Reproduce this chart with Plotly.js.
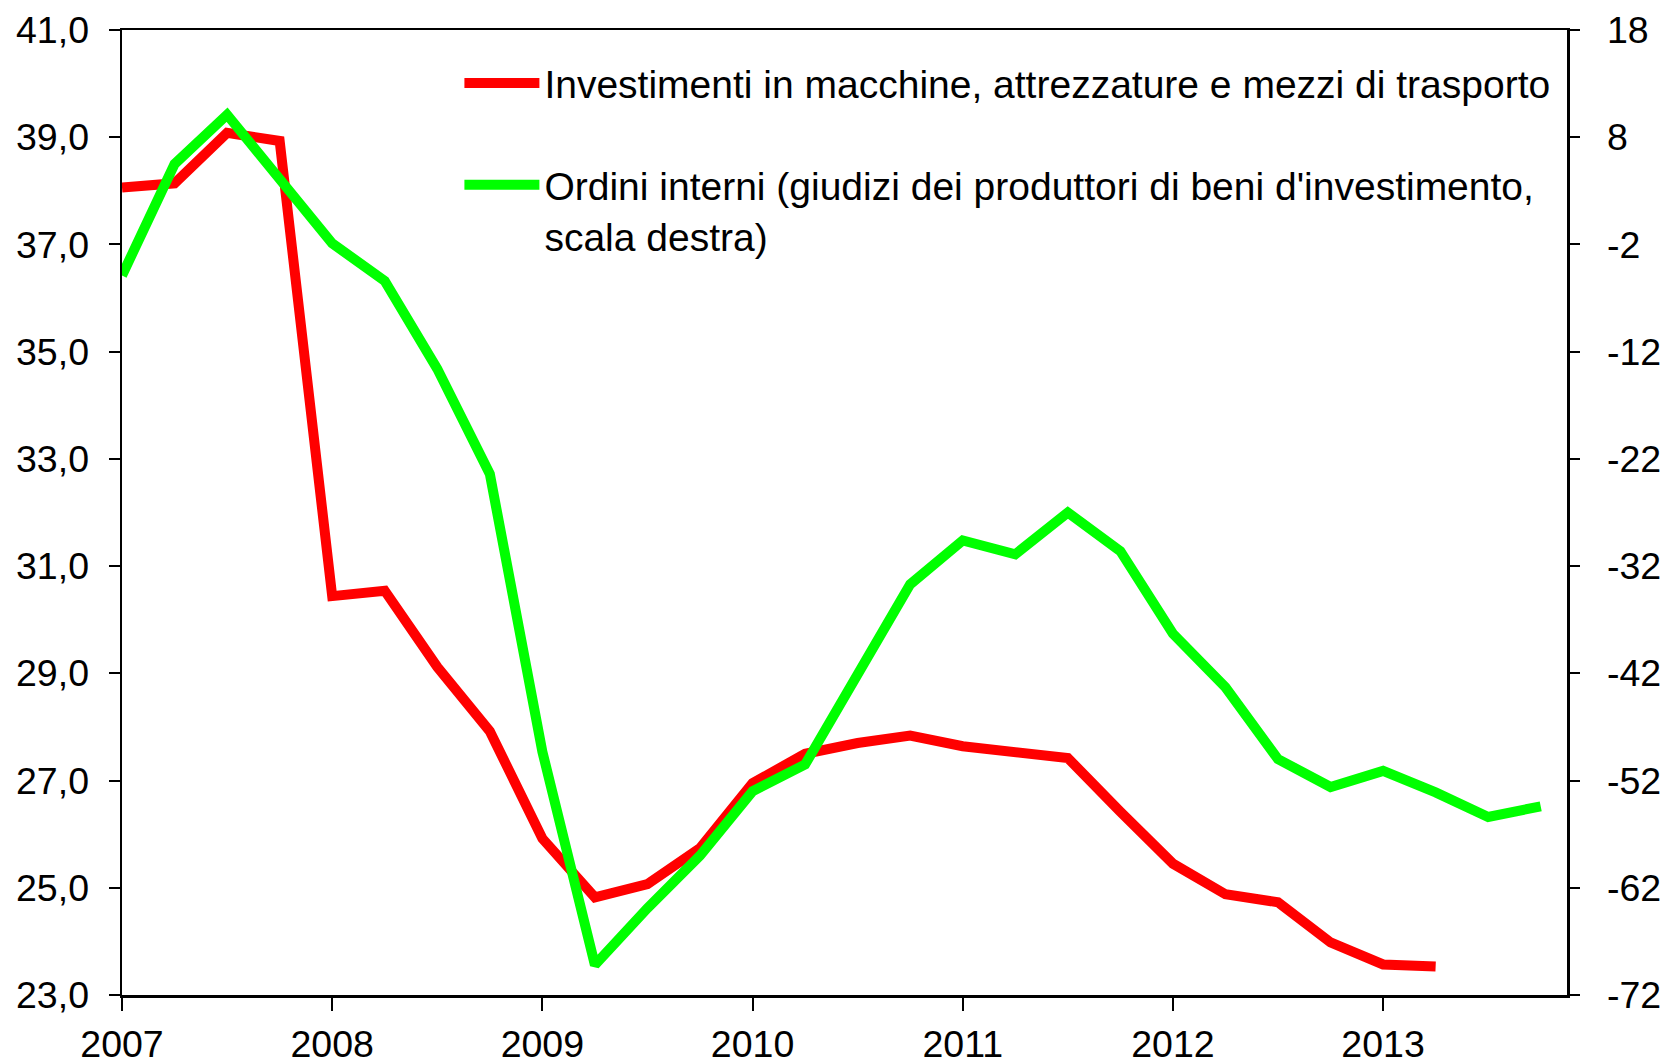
<!DOCTYPE html>
<html>
<head>
<meta charset="utf-8">
<script src="https://cdn.plot.ly/plotly-3.0.1.min.js"></script>
<style>
  html, body { margin: 0; padding: 0; background: #ffffff; }
  #chart { width: 1661px; height: 1061px; }
</style>
</head>
<body>
<div id="chart"></div>
<script>
// Quarters (categories)
const quarters = [
  '2007-T1','2007-T2','2007-T3','2007-T4',
  '2008-T1','2008-T2','2008-T3','2008-T4',
  '2009-T1','2009-T2','2009-T3','2009-T4',
  '2010-T1','2010-T2','2010-T3','2010-T4',
  '2011-T1','2011-T2','2011-T3','2011-T4',
  '2012-T1','2012-T2','2012-T3','2012-T4',
  '2013-T1','2013-T2','2013-T3','2013-T4'
];
// Year tick positions and labels
const yearTickQuarters = ['2007-T1','2008-T1','2009-T1','2010-T1','2011-T1','2012-T1','2013-T1'];
const yearLabels = ['2007','2008','2009','2010','2011','2012','2013'];

// Investimenti in macchine, attrezzature e mezzi di trasporto (left scale)
const investimenti = [
  38.06, 38.14, 39.08, 38.93,
  30.44, 30.54, 29.12, 27.92,
  25.92, 24.82, 25.07, 25.74,
  26.95, 27.50, 27.70, 27.84,
  27.64, 27.54, 27.42, 26.42,
  25.45, 24.88, 24.73, 23.98,
  23.57, 23.53
];
// Ordini interni (right scale)
const ordini = [
  -4.9, 5.5, 10.1, 4.1,
  -1.9, -5.4, -13.6, -23.4,
  -49.3, -69.2, -63.9, -59.0,
  -53.0, -50.5, -42.0, -33.7,
  -29.6, -30.9, -27.0, -30.6,
  -38.3, -43.3, -50.0, -52.6,
  -51.1, -53.1, -55.4, -54.4
];

// Axis ticks
const leftTicks = [23, 25, 27, 29, 31, 33, 35, 37, 39, 41];
const leftTickLabels = ['23,0','25,0','27,0','29,0','31,0','33,0','35,0','37,0','39,0','41,0'];
const rightTicks = [-72, -62, -52, -42, -32, -22, -12, -2, 8, 18];
const rightTickLabels = ['-72','-62','-52','-42','-32','-22','-12','-2','8','18'];

const nameInv = 'Investimenti in macchine, attrezzature e mezzi di trasporto';
const nameOrd = "Ordini interni (giudizi dei produttori di beni d'investimento,<br>scala destra)";

const FONT = '"Liberation Sans", Arial, sans-serif';
const TICKSIZE = 37.5;

const traces = [
  {
    type: 'scatter', mode: 'lines',
    x: quarters.slice(0, investimenti.length), y: investimenti,
    name: nameInv, legendgroup: 'a',
    line: { color: '#FF0000', width: 10 },
    yaxis: 'y'
  },
  {
    type: 'scatter', mode: 'lines',
    x: quarters.slice(0, ordini.length), y: ordini,
    name: nameOrd, legendgroup: 'b',
    line: { color: '#00FF00', width: 10 },
    yaxis: 'y2'
  }
];

const layout = {
  width: 1661, height: 1061,
  margin: { l: 122, r: 94, t: 30, b: 66 },
  paper_bgcolor: '#ffffff', plot_bgcolor: '#ffffff',
  font: { family: FONT, color: '#000000', size: TICKSIZE },
  showlegend: true,
  legend: {
    x: 0.2335, y: 0.978, xanchor: 'left', yanchor: 'top',
    bgcolor: 'rgba(0,0,0,0)', borderwidth: 0,
    font: { family: FONT, size: 39, color: '#000000' },
    traceorder: 'grouped', tracegroupgap: 48,
    itemwidth: 75, valign: 'top'
  },
  xaxis: {
    type: 'category', categoryorder: 'array', categoryarray: quarters,
    range: [0, 27.5],
    tickmode: 'array', tickvals: yearTickQuarters, ticktext: yearLabels,
    ticks: 'outside', ticklen: 13, tickwidth: 2, tickcolor: '#000',
    showline: true, linecolor: '#000', linewidth: 2.5, mirror: true,
    showgrid: false, zeroline: false,
    tickfont: { family: FONT, size: TICKSIZE, color: '#000' },
    ticklabelstandoff: 1
  },
  yaxis: {
    range: [23, 41],
    tickmode: 'array', tickvals: leftTicks, ticktext: leftTickLabels,
    ticks: 'outside', ticklen: 11, tickwidth: 2, tickcolor: '#000',
    showline: true, linecolor: '#000', linewidth: 2.5,
    showgrid: false, zeroline: false,
    tickfont: { family: FONT, size: TICKSIZE, color: '#000' },
    ticklabelstandoff: 12
  },
  yaxis2: {
    overlaying: 'y', side: 'right',
    range: [-72, 18],
    tickmode: 'array', tickvals: rightTicks, ticktext: rightTickLabels,
    ticks: 'outside', ticklen: 10, tickwidth: 2, tickcolor: '#000',
    showline: true, linecolor: '#000', linewidth: 2.5,
    showgrid: false, zeroline: false,
    tickfont: { family: FONT, size: TICKSIZE, color: '#000' },
    ticklabelstandoff: 20
  }
};

Plotly.newPlot('chart', traces, layout, { displayModeBar: false, staticPlot: true });
</script>
</body>
</html>
